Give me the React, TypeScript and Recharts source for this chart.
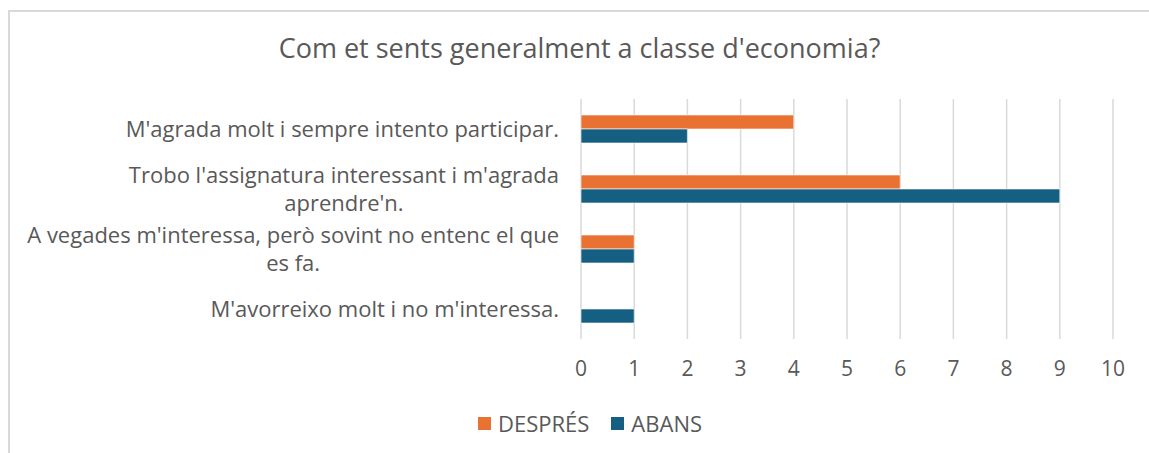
import { BarChart, Bar, XAxis, YAxis, CartesianGrid, Legend } from 'recharts';

const categories = [
  "M'agrada molt i sempre intento participar.",
  "Trobo l'assignatura interessant i m'agrada aprendre'n.",
  "A vegades m'interessa, però sovint no entenc el que es fa.",
  "M'avorreixo molt i no m'interessa.",
];
const despres = [4, 6, 1, 0];
const abans = [2, 9, 1, 1];
const xTicks = [0, 1, 2, 3, 4, 5, 6, 7, 8, 9, 10];

const data = categories.map((name, i) => ({ name, despres: despres[i], abans: abans[i] }));

const FONT = '"Open Sans", Roboto, sans-serif';
const TEXT = '#595959';
const ORANGE = '#E97132';
const BLUE = '#156082';

// the chart box runs off the right and bottom edges, like the screenshot it copies
document.body.style.margin = '0';

let ctx: CanvasRenderingContext2D | null = null;
function measure(s: string, size: number) {
  if (!ctx) ctx = document.createElement('canvas').getContext('2d');
  if (!ctx) return s.length * size * 0.5;
  ctx.font = `${size}px ${FONT}`;
  return ctx.measureText(s).width;
}

function wrap(s: string, max: number) {
  const words = s.split(' ');
  const lines: string[] = [];
  let cur = '';
  for (const w of words) {
    const next = cur ? cur + ' ' + w : w;
    if (next.length > max && cur) {
      lines.push(cur);
      cur = w;
    } else cur = next;
  }
  if (cur) lines.push(cur);
  return lines;
}

function CategoryTick(props: any) {
  const { x, y, payload } = props;
  const size = 22;
  const lines = wrap(String(payload.value), 52);
  const maxW = Math.max(...lines.map((l) => measure(l, size)));
  const cx = x - maxW / 2;
  const lh = 28;
  const top = y - ((lines.length - 1) * lh) / 2;
  return (
    <text x={cx} y={top} textAnchor="middle" fill={TEXT} fontSize={size} fontFamily={FONT}>
      {lines.map((l, i) => (
        <tspan key={i} x={cx} dy={i === 0 ? '0.35em' : lh}>
          {l}
        </tspan>
      ))}
    </text>
  );
}

function LegendContent() {
  const items = [
    { label: 'DESPRÉS', color: ORANGE },
    { label: 'ABANS', color: BLUE },
  ];
  return (
    <div style={{ display: 'flex', justifyContent: 'center', gap: 22, fontFamily: FONT, fontSize: 22, color: TEXT }}>
      {items.map((it) => (
        <div key={it.label} style={{ display: 'flex', alignItems: 'center' }}>
          <span style={{ display: 'inline-block', width: 13, height: 13, background: it.color, marginRight: 7 }} />
          {it.label}
        </div>
      ))}
    </div>
  );
}

export default function App() {
  return (
    <div style={{ width: 1149, height: 453, overflow: 'hidden', background: '#fff' }}>
      <div
        style={{
          position: 'relative',
          marginLeft: 8,
          marginTop: 10,
          width: 1141,
          height: 443,
          boxSizing: 'border-box',
          borderLeft: '2px solid #d9d9d9',
          borderTop: '2px solid #d9d9d9',
        }}
      >
        <div
          style={{
            position: 'absolute',
            top: 17,
            left: 0,
            width: 1139,
            textAlign: 'center',
            fontFamily: FONT,
            fontSize: 27,
            color: TEXT,
            zIndex: 1,
          }}
        >
          Com et sents generalment a classe d'economia?
        </div>
        <BarChart
          width={1139}
          height={441}
          data={data}
          layout="vertical"
          margin={{ top: 87, right: 36, left: 0, bottom: 84 }}
          barGap={0}
        >
          <CartesianGrid horizontal={false} stroke="#d9d9d9" strokeWidth={1.5} />
          <XAxis
            type="number"
            domain={[0, 10]}
            ticks={xTicks}
            interval={0}
            axisLine={false}
            tickLine={false}
            tickSize={0}
            tickMargin={22}
            height={30}
            tick={{ fill: TEXT, fontSize: 21, fontFamily: FONT }}
          />
          <YAxis
            type="category"
            dataKey="name"
            width={571}
            axisLine={false}
            tickLine={false}
            tickSize={0}
            tickMargin={22}
            interval={0}
            tick={<CategoryTick />}
          />
          <Legend
            verticalAlign="middle"
            layout="horizontal"
            content={<LegendContent />}
            wrapperStyle={{ top: 396, left: 0, width: 1160 }}
          />
          <Bar dataKey="despres" name="DESPRÉS" fill={ORANGE} barSize={14} stroke="#fff" strokeWidth={0.6} isAnimationActive={false} />
          <Bar dataKey="abans" name="ABANS" fill={BLUE} barSize={14} stroke="#fff" strokeWidth={0.6} isAnimationActive={false} />
        </BarChart>
      </div>
    </div>
  );
}
